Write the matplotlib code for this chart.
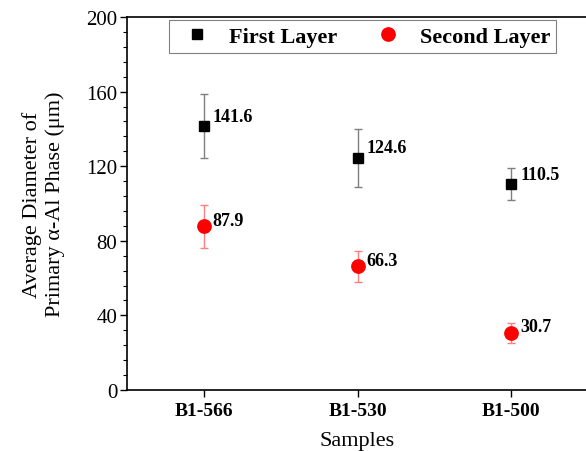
import matplotlib
matplotlib.use("Agg")
import matplotlib.pyplot as plt
from matplotlib.ticker import MultipleLocator
from matplotlib.lines import Line2D

samples = ["B1-566", "B1-530", "B1-500"]
first_layer = [141.6, 124.6, 110.5]
first_err = [17.3, 15.5, 8.5]
second_layer = [87.9, 66.3, 30.7]
second_err = [11.5, 8.3, 5.3]

plt.rcParams['font.family'] = ['Liberation Serif', 'DejaVu Serif']

fig = plt.figure(figsize=(5.86, 4.52), dpi=100)
ax = fig.add_axes([127/586, 1-391/452, (588-127)/586, (391-18)/452])

x = [1, 2, 3]
ax.errorbar(x, first_layer, yerr=first_err, fmt='s', color='black', ms=7.2,
            ecolor='#7f7f7f', elinewidth=1.0, capsize=3.2, capthick=1.0, zorder=3)
ax.errorbar(x, second_layer, yerr=second_err, fmt='o', color='red', ms=9.6,
            ecolor='#ff8080', elinewidth=1.0, capsize=3.2, capthick=1.0, zorder=3)

for xi, v in zip(x, first_layer):
    ax.annotate(f"{v}", (xi, v), xytext=(6.5, 7), textcoords='offset points',
                fontsize=13, fontweight='bold', va='center', ha='left')
for xi, v in zip(x, second_layer):
    ax.annotate(f"{v}", (xi, v), xytext=(6.5, 4.3), textcoords='offset points',
                fontsize=13, fontweight='bold', va='center', ha='left')

ax.set_xlim(0.5, 3.5)
ax.set_ylim(0, 200)
ax.set_xticks(x)
ax.set_xticklabels(samples, fontsize=14, fontweight='bold')
ax.yaxis.set_major_locator(MultipleLocator(40))
ax.yaxis.set_minor_locator(MultipleLocator(8))
ax.tick_params(axis='y', which='major', direction='out', length=5, width=1, labelsize=15, pad=2)
ax.tick_params(axis='y', which='minor', direction='out', length=3, width=0.8)
ax.tick_params(axis='x', which='major', direction='out', length=5, width=1, pad=4)

for s in ax.spines.values():
    s.set_linewidth(1.2)

ax.set_xlabel("Samples", fontsize=16, labelpad=8)
ax.set_ylabel("Average Diameter of\nPrimary \u03b1-Al Phase (\u03bcm)", fontsize=16,
              linespacing=1.25)
ax.yaxis.set_label_coords(65/586, 1-204.5/452, transform=fig.transFigure)

handles = [Line2D([], [], ls='none', marker='s', color='black', ms=7.2),
           Line2D([], [], ls='none', marker='o', color='red', ms=9.6)]
leg = ax.legend(handles, ['First Layer', 'Second Layer'],
                loc='upper left', bbox_to_anchor=(169/586, 1-21/452), bbox_transform=fig.transFigure,
                ncol=2, prop={'weight': 'bold', 'size': 16}, frameon=True, fancybox=False,
                edgecolor='#808080', framealpha=1, borderpad=0.27, handletextpad=0.45,
                columnspacing=1.25, handlelength=2.0, borderaxespad=0)
leg.get_frame().set_linewidth(0.8)

fig.savefig("out.png", dpi=100)
